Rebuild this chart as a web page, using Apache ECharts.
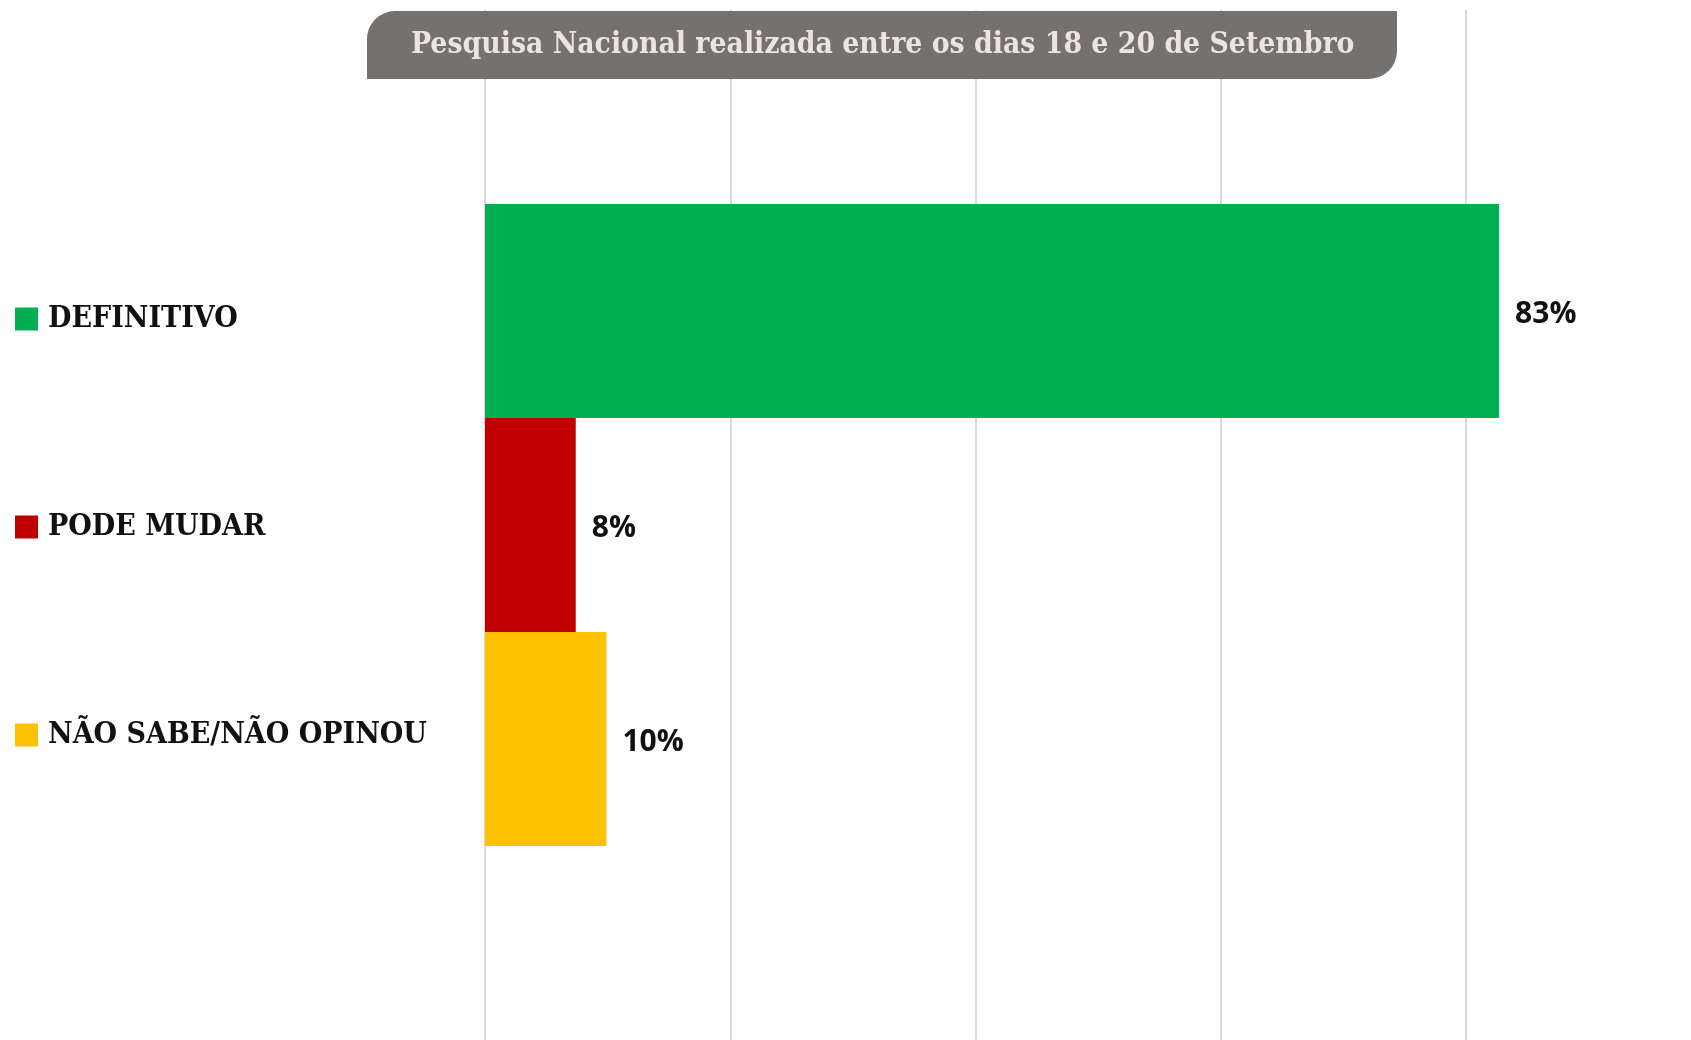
<!DOCTYPE html>
<html>
<head>
<meta charset="utf-8">
<title>Pesquisa Nacional</title>
<script src="https://cdn.jsdelivr.net/npm/echarts@6/dist/echarts.min.js"></script>
<style>
  html, body { margin: 0; padding: 0; background: #fff; }
  #chart { width: 1691px; height: 1040px; }
</style>
</head>
<body>
<div id="chart"></div>
<script>
// data
const categories = ["DEFINITIVO", "PODE MUDAR", "NÃO SABE/NÃO OPINOU"];
const values = [82.7, 7.4, 9.9];
const valueLabels = ["83%", "8%", "10%"];
const colors = ["#00b050", "#c00000", "#ffc000"];
const titleText = "Pesquisa Nacional realizada entre os dias 18 e 20 de Setembro";

const slab = '"DejaVu Serif Condensed", "DejaVu Serif", serif';

let chart = echarts.init(document.getElementById("chart"));

// one bar series per answer, all sharing the same (single) category
let series = categories.map((name, i) => {
  return {
    name: name,
    type: "bar",
    data: [values[i]],
    barWidth: 214,
    barGap: "0%",
    clip: false, // the green bar runs past the last gridline (80)
    itemStyle: { color: colors[i] },
    label: {
      show: true,
      position: "right",
      distance: 16,
      offset: [0, 3],
      formatter: () => valueLabels[i],
      color: "#111",
      fontFamily: '"Open Sans", sans-serif',
      fontWeight: "bold",
      fontSize: 30,
    },
  };
});

let option = {
  animation: false,
  backgroundColor: "#ffffff",
  grid: {
    left: 485,
    right: 225,
    top: 10,
    bottom: 0,
  },
  legend: {
    orient: "vertical",
    left: 10,
    top: 299,
    icon: "rect",
    itemWidth: 23,
    itemHeight: 23,
    itemGap: 178,
    data: categories,
    textStyle: {
      color: "#111",
      fontFamily: slab,
      fontWeight: "bold",
      fontSize: 30,
      lineHeight: 23,
      padding: [0, 0, 0, 5],
    },
  },
  xAxis: {
    type: "value",
    min: 0,
    max: 80,
    interval: 20,
    axisLine: { show: false },
    axisTick: { show: false },
    axisLabel: { show: false },
    splitLine: { lineStyle: { color: "#d9d9d9", width: 2 } },
  },
  yAxis: {
    type: "category",
    data: [""],
    inverse: true,
    axisLine: { show: false },
    axisTick: { show: false },
    axisLabel: { show: false },
  },
  series: series,
  graphic: [
    {
      type: "rect",
      zlevel: 1,
      z: 100,
      shape: { x: 367, y: 11, width: 1030, height: 68, r: [28, 0, 28, 0] },
      style: { fill: "#75716f" },
    },
    {
      type: "text",
      zlevel: 1,
      z: 101,
      x: 411,
      y: 45,
      style: {
        text: titleText,
        fill: "#ece4de",
        font: "bold 29.8px " + slab,
        textVerticalAlign: "middle",
      },
    },
  ],
};

chart.setOption(option);
</script>
</body>
</html>
